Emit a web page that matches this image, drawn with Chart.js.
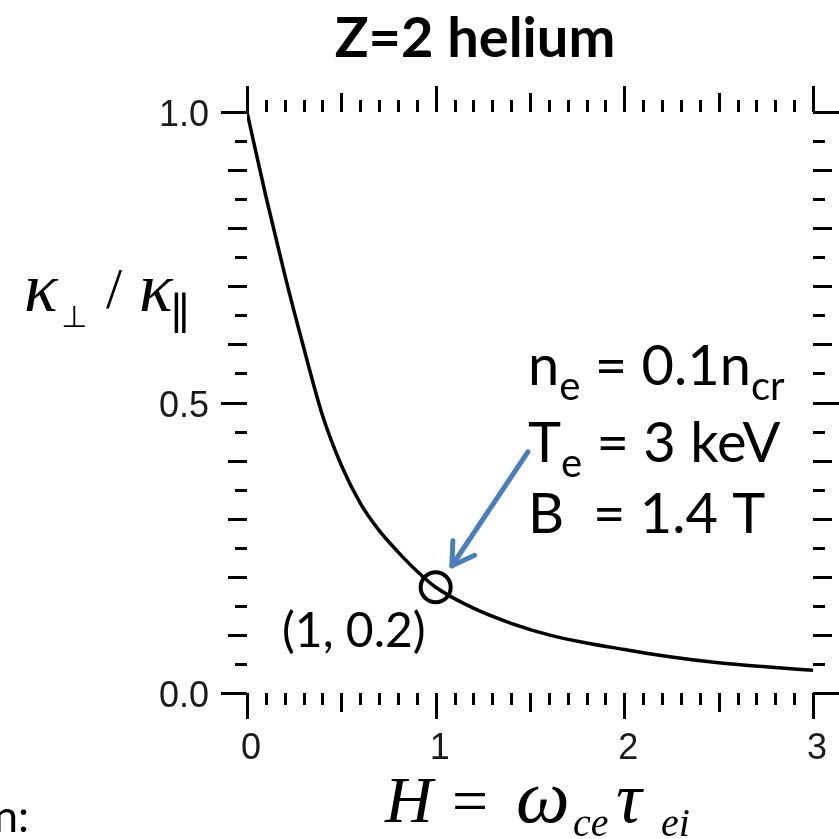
<!DOCTYPE html>
<html>
<head>
<meta charset="utf-8">
<script src="https://cdn.jsdelivr.net/npm/chart.js@4.4.0/dist/chart.umd.min.js"></script>
<style>
  html, body { margin: 0; padding: 0; background: #ffffff; }
  #wrap { width: 839px; height: 839px; position: relative; }
</style>
</head>
<body>
<div id="wrap"><canvas id="c" width="839" height="839"></canvas></div>
<script>
// Thermal conductivity ratio vs Hall parameter (Z = 2)
const hallParam = [0, 0.1, 0.2, 0.3, 0.4, 0.5, 0.6, 0.7, 0.8, 0.9, 1.0, 1.2, 1.4, 1.6, 1.8, 2.0, 2.25, 2.5, 2.75, 3.0];
const kappaRatio = [1.0, 0.855, 0.72, 0.595, 0.478, 0.392, 0.327, 0.28, 0.243, 0.21, 0.182, 0.146, 0.12, 0.10, 0.086, 0.075, 0.062, 0.052, 0.045, 0.039];

// highlighted operating point
const markerH = [1];
const markerRatio = [0.182];
const markerLabel = '(1, 0.2)';

const xTickValues = [0, 1, 2, 3];
const xTickLabels = ['0', '1', '2', '3'];
const yTickValues = [0, 0.5, 1];
const yTickLabels = ['0.0', '0.5', '1.0'];

const titleText = 'Z=2 helium';

// plasma parameters: [main, subscript, rest, subscript]
const paramLines = [
  ['n', 'e', ' = 0.1n', 'cr'],
  ['T', 'e', ' = 3 keV', ''],
  ['B  = 1.4 T', '', '', '']
];

// arrow from the parameter box to the marker (data coordinates)
const arrowFrom = { x: 1.489, y: 0.415 };
const arrowTo = { x: 1.086, y: 0.219 };

const INK = '#000000';
const LABEL_INK = '#1a1a1a';
const ARROW_BLUE = '#4a7ebb';

function drawRuns(ctx, x, y, runs) {
  let cx = x;
  for (const r of runs) {
    if (!r.t) continue;
    ctx.font = r.font;
    ctx.fillText(r.t, cx, y + (r.dy || 0));
    cx += ctx.measureText(r.t).width + (r.gap || 0);
  }
  return cx;
}

const decorations = {
  id: 'decorations',
  afterDraw(chart) {
    const ctx = chart.ctx;
    const xs = chart.scales.x;
    const ys = chart.scales.y;
    const area = chart.chartArea;
    ctx.save();
    ctx.strokeStyle = INK;
    ctx.lineWidth = 3;
    ctx.lineCap = 'butt';

    // horizontal axes ticks (bottom outward down, top outward up)
    for (let i = 0; i <= 30; i++) {
      const v = i / 10;
      const px = Math.round(xs.getPixelForValue(v)) + 0.5;
      let len = 12;
      if (i % 10 === 0) len = 26;
      else if (i % 5 === 0) len = 19;
      ctx.beginPath();
      ctx.moveTo(px, area.bottom);
      ctx.lineTo(px, area.bottom + len);
      ctx.moveTo(px, area.top);
      ctx.lineTo(px, area.top - len);
      ctx.stroke();
    }
    // vertical axes ticks (left outward left, right outward right)
    for (let i = 0; i <= 20; i++) {
      const v = i / 20;
      const py = Math.round(ys.getPixelForValue(v)) + 0.5;
      let len = 12;
      if (i % 10 === 0) len = 26;
      else if (i % 2 === 0) len = 19;
      ctx.beginPath();
      ctx.moveTo(area.left, py);
      ctx.lineTo(area.left - len, py);
      ctx.moveTo(area.right, py);
      ctx.lineTo(area.right + len, py);
      ctx.stroke();
    }

    // tick labels
    ctx.fillStyle = LABEL_INK;
    ctx.font = '36px "Liberation Sans", Arial, sans-serif';
    ctx.textAlign = 'center';
    ctx.textBaseline = 'alphabetic';
    xTickValues.forEach((v, i) => {
      ctx.fillText(xTickLabels[i], xs.getPixelForValue(v) + 4, area.bottom + 66);
    });
    ctx.textAlign = 'right';
    yTickValues.forEach((v, i) => {
      ctx.fillText(yTickLabels[i], area.left - 38, ys.getPixelForValue(v) + 14);
    });

    // title
    ctx.fillStyle = INK;
    ctx.textAlign = 'center';
    ctx.font = 'bold 56px Lato, "Open Sans", sans-serif';
    ctx.fillText(titleText, 475, 57);

    // y-axis title: kappa_perp / kappa_par
    ctx.textAlign = 'left';
    const serifI = 'italic 70px "Liberation Serif", serif';
    ctx.font = serifI;
    ctx.fillText('\u03BA', 24, 311);
    ctx.font = '30px "DejaVu Sans", sans-serif';
    ctx.fillText('\u22A5', 61, 327);
    ctx.font = '58px "Liberation Serif", serif';
    ctx.fillText('/', 106, 308);
    ctx.font = serifI;
    ctx.fillText('\u03BA', 139, 311);
    ctx.font = '44px "DejaVu Serif", serif';
    ctx.fillText('\u2225', 170, 329);

    // x-axis title: H = omega_ce tau_ei
    const xi = 'italic 66px "Liberation Serif", serif';
    const xsub = 'italic 40px "Liberation Serif", serif';
    ctx.font = xi;
    ctx.fillText('H', 385, 822);
    ctx.font = '64px "Liberation Serif", serif';
    ctx.fillText('=', 452, 822);
    ctx.font = 'italic 76px "Liberation Serif", serif';
    ctx.fillText('\u03C9', 516, 822);
    ctx.font = xsub;
    ctx.fillText('ce', 573, 836);
    ctx.font = 'italic 72px "Liberation Serif", serif';
    ctx.fillText('\u03C4', 616, 822);
    ctx.font = xsub;
    ctx.fillText('ei', 661, 836);

    // parameter text block
    const mainF = '56px Lato, "Open Sans", sans-serif';
    const subF = '40px Lato, "Open Sans", sans-serif';
    const lineY = [385, 462, 533];
    paramLines.forEach((ln, i) => {
      drawRuns(ctx, 528, lineY[i], [
        { t: ln[0], font: mainF },
        { t: ln[1], font: subF, dy: 15 },
        { t: ln[2], font: mainF },
        { t: ln[3], font: subF, dy: 15 }
      ]);
    });

    // marker label
    ctx.font = '48px Lato, "Open Sans", sans-serif';
    ctx.fillText(markerLabel, 282, 647);

    // fragment of neighbouring slide text
    ctx.font = '44px Lato, "Open Sans", sans-serif';
    ctx.textAlign = 'right';
    ctx.fillText('n:', 29, 832);
    ctx.textAlign = 'left';

    // arrow
    const ax0 = xs.getPixelForValue(arrowFrom.x), ay0 = ys.getPixelForValue(arrowFrom.y);
    const ax1 = xs.getPixelForValue(arrowTo.x), ay1 = ys.getPixelForValue(arrowTo.y);
    const ang = Math.atan2(ay1 - ay0, ax1 - ax0);
    ctx.strokeStyle = ARROW_BLUE;
    ctx.lineWidth = 5;
    ctx.lineCap = 'round';
    ctx.lineJoin = 'round';
    ctx.beginPath();
    ctx.moveTo(ax0, ay0);
    ctx.lineTo(ax1, ay1);
    ctx.stroke();
    const head = 25, spread = 0.55;
    ctx.beginPath();
    ctx.moveTo(ax1 - head * Math.cos(ang - spread), ay1 - head * Math.sin(ang - spread));
    ctx.lineTo(ax1, ay1);
    ctx.lineTo(ax1 - head * Math.cos(ang + spread), ay1 - head * Math.sin(ang + spread));
    ctx.stroke();

    ctx.restore();
  }
};

new Chart(document.getElementById('c'), {
  type: 'line',
  data: {
    datasets: [
      {
        data: hallParam.map((h, i) => ({ x: h, y: kappaRatio[i] })),
        borderColor: INK,
        borderWidth: 3.5,
        pointRadius: 0,
        fill: false,
        cubicInterpolationMode: 'monotone'
      },
      {
        data: markerH.map((h, i) => ({ x: h, y: markerRatio[i] })),
        showLine: false,
        pointRadius: 15,
        pointBorderWidth: 4,
        pointBorderColor: INK,
        pointBackgroundColor: 'rgba(0,0,0,0)',
        pointStyle: 'circle'
      }
    ]
  },
  options: {
    responsive: false,
    devicePixelRatio: 1,
    animation: false,
    layout: { padding: { top: 112, right: 26, left: 0, bottom: 0 } },
    plugins: { legend: { display: false }, tooltip: { enabled: false }, title: { display: false } },
    scales: {
      x: {
        type: 'linear', min: 0, max: 3,
        grid: { display: false, drawTicks: false },
        border: { display: false },
        ticks: { display: false, stepSize: 1 },
        afterFit(scale) { scale.height = 146; }
      },
      y: {
        type: 'linear', min: 0, max: 1,
        grid: { display: false, drawTicks: false },
        border: { display: false },
        ticks: { display: false, stepSize: 0.5 },
        afterFit(scale) { scale.width = 247; }
      }
    }
  },
  plugins: [decorations]
});
</script>
</body>
</html>
